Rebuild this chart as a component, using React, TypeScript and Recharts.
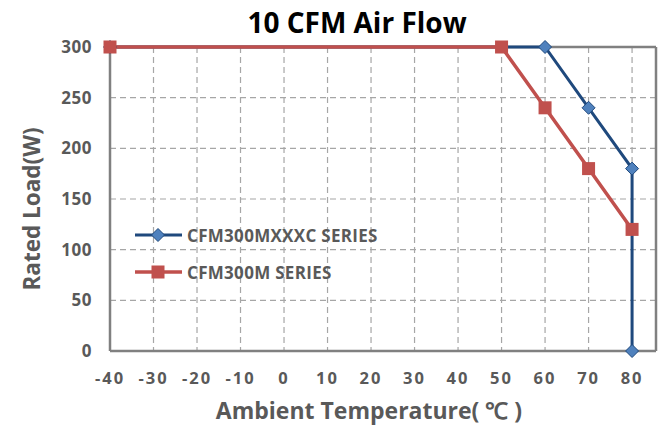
import React from "react";
import { LineChart, Line, XAxis, YAxis, CartesianGrid, ReferenceLine } from "recharts";

const xTicks = [-40, -30, -20, -10, 0, 10, 20, 30, 40, 50, 60, 70, 80];
const yTicks = [0, 50, 100, 150, 200, 250, 300];

const blueX = [-40, 60, 70, 80, 80];
const blueY = [300, 300, 240, 180, 0];
const redX = [-40, 50, 60, 70, 80];
const redY = [300, 300, 240, 180, 120];

const blueName = "CFM300MXXXC SERIES";
const redName = "CFM300M SERIES";
const titleText = "10 CFM Air Flow";
const xTitle = "Ambient Temperature( ℃ )";
const yTitle = "Rated Load(W)";

const blueData = blueX.map((x, i) => ({ x, y: blueY[i] }));
const redData = redX.map((x, i) => ({ x, y: redY[i] }));

const FONT = "'Open Sans', sans-serif";
const GRAY = "#595959";
const BLUE_LINE = "#1F497D";
const BLUE_FILL = "#4F81BD";
const RED = "#C0504D";

const Diamond = (props: any) => {
  const { cx, cy } = props;
  if (cx == null || cy == null) return null;
  const r = 6.5;
  return (
    <path d={`M${cx},${cy - r}L${cx + r},${cy}L${cx},${cy + r}L${cx - r},${cy}Z`} fill={BLUE_FILL} stroke={BLUE_LINE} strokeWidth={1} />
  );
};

const Square = (props: any) => {
  const { cx, cy } = props;
  if (cx == null || cy == null) return null;
  const s = 13;
  return <rect x={cx - s / 2} y={cy - s / 2} width={s} height={s} fill={RED} />;
};

const Overlay = () => (
  <svg width={665} height={425} style={{ position: "absolute", left: 0, top: 0, overflow: "visible", pointerEvents: "none" }}>
    <text x={357} y={22} dominantBaseline="central" textAnchor="middle" fontFamily={FONT} fontWeight={700} fontSize={28} fill="#000">{titleText}</text>
    <text x={369} y={410} dominantBaseline="central" textAnchor="middle" fontFamily={FONT} fontWeight={700} fontSize={23} fill={GRAY}>{xTitle}</text>
    <text x={31} y={209} dominantBaseline="central" textAnchor="middle" transform="rotate(-90 31 209)" fontFamily={FONT} fontWeight={700} fontSize={22.5} fill={GRAY}>{yTitle}</text>
    <g transform="translate(135,223)">
      <line x1={0} y1={12} x2={47} y2={12} stroke={BLUE_LINE} strokeWidth={3} />
      <Diamond cx={23} cy={12} />
      <text x={52} y={12} dominantBaseline="central" fontFamily={FONT} fontWeight={700} fontSize={17} letterSpacing={0.3} fill={GRAY}>{blueName}</text>
      <line x1={0} y1={49} x2={47} y2={49} stroke={RED} strokeWidth={3.5} />
      <Square cx={23} cy={49} />
      <text x={52} y={49} dominantBaseline="central" fontFamily={FONT} fontWeight={700} fontSize={17} letterSpacing={0.3} fill={GRAY}>{redName}</text>
    </g>
  </svg>
);

export default function App() {
  return (
    <div style={{ position: "absolute", left: 0, top: 0, width: 665, height: 425, background: "#fff" }}>
      <LineChart width={665} height={425} margin={{ top: 47, right: 9, bottom: 0, left: 50 }}>
        <CartesianGrid stroke="#A6A6A6" strokeDasharray="6 4" strokeWidth={1.2} />
        <XAxis
          type="number"
          dataKey="x"
          domain={[-40, 85.5]}
          ticks={xTicks}
          interval={0}
          tickLine={false}
          axisLine={{ stroke: "#808080", strokeWidth: 2.5 }}
          tickMargin={15}
          height={74}
          tick={{ fontFamily: FONT, fontWeight: 700, fontSize: 16.5, fill: GRAY, letterSpacing: 2 }}
        />
        <YAxis
          type="number"
          dataKey="y"
          domain={[0, 300]}
          ticks={yTicks}
          interval={0}
          tickLine={false}
          axisLine={{ stroke: "#808080", strokeWidth: 2.5 }}
          tickMargin={12}
          width={60}
          tick={{ fontFamily: FONT, fontWeight: 700, fontSize: 17, fill: GRAY, letterSpacing: 0.5 }}
        />
        <ReferenceLine y={300} stroke="#808080" strokeWidth={2.5} />
        <ReferenceLine x={85.5} stroke="#808080" strokeWidth={2.5} />
        <Line data={blueData} dataKey="y" name={blueName} type="linear" stroke={BLUE_LINE} strokeWidth={3} dot={<Diamond />} activeDot={false} isAnimationActive={false} />
        <Line data={redData} dataKey="y" name={redName} type="linear" stroke={RED} strokeWidth={3.5} dot={<Square />} activeDot={false} isAnimationActive={false} />
      </LineChart>
      <Overlay />
    </div>
  );
}
